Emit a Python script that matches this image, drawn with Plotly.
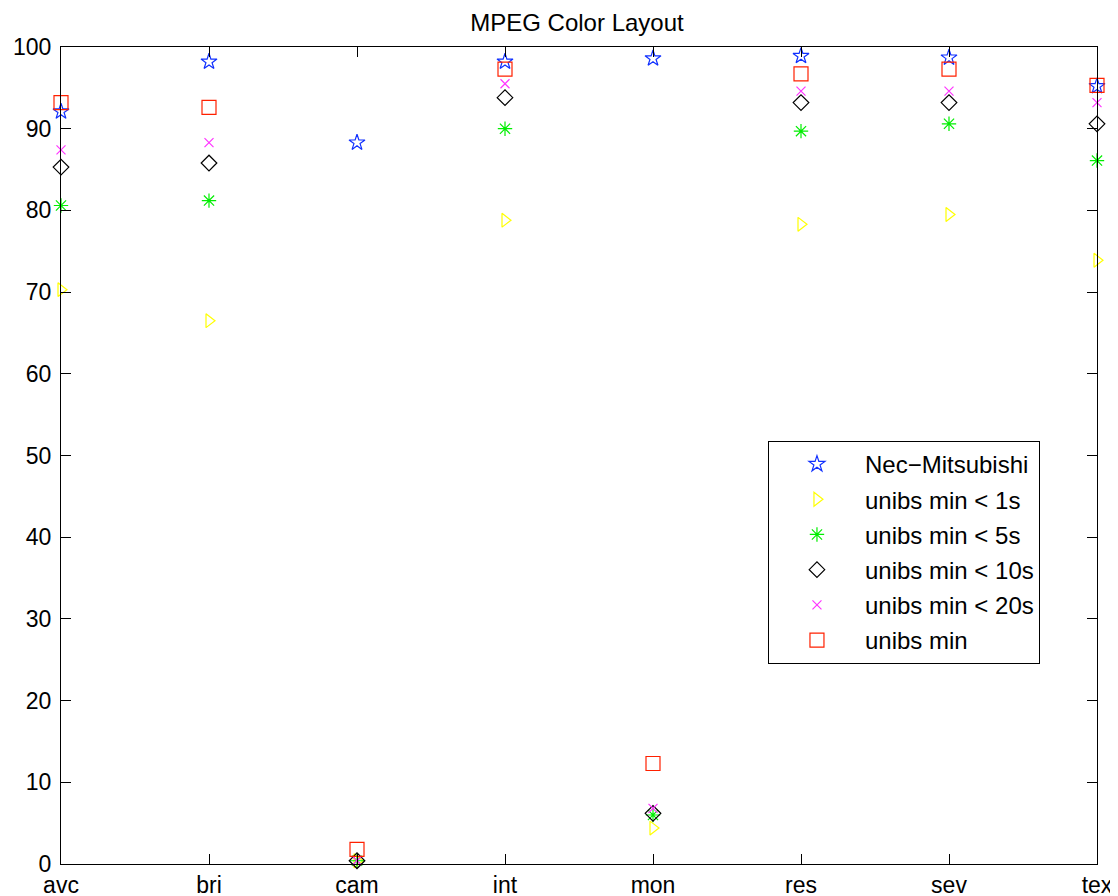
import plotly.graph_objects as go

categories = ["avc", "bri", "cam", "int", "mon", "res", "sev", "tex"]
y_ticks = [0, 10, 20, 30, 40, 50, 60, 70, 80, 90, 100]

nec_mitsubishi = [92.1, 98.2, 88.3, 98.2, 98.6, 98.9, 98.7, 95.2]
unibs_lt_1s = [70.3, 66.5, 0.4, 78.8, 4.4, 78.3, 79.5, 73.9]
unibs_lt_5s = [80.6, 81.2, 0.4, 90.0, 6.0, 89.7, 90.6, 86.1]
unibs_lt_10s = [85.3, 85.8, 0.4, 93.8, 6.2, 93.2, 93.2, 90.6]
unibs_lt_20s = [87.4, 88.3, 0.4, 95.5, 6.8, 94.6, 94.6, 93.2]
unibs_min = [93.2, 92.6, 1.8, 97.3, 12.3, 96.7, 97.3, 95.3]

series = [
    ("Nec\u2212Mitsubishi", nec_mitsubishi, "star-open", "#1030ff", 12),
    ("unibs min < 1s", unibs_lt_1s, "triangle-right-open", "#ffff00", 12),
    ("unibs min < 5s", unibs_lt_5s, "asterisk-open", "#00ee00", 12),
    ("unibs min < 10s", unibs_lt_10s, "diamond-open", "#000000", 12),
    ("unibs min < 20s", unibs_lt_20s, "x-thin-open", "#ff33ff", 9),
    ("unibs min", unibs_min, "square-open", "#ff2000", 14),
]

fig = go.Figure()
for i, (name, vals, sym, col, sz) in enumerate(series):
    fig.add_trace(go.Scatter(
        x=list(range(len(categories))), y=vals, mode="markers", name=name,
        legendgroup=f"g{i}",
        marker=dict(symbol=sym, color=col, size=sz, line=dict(color=col, width=1.2)),
        cliponaxis=False,
    ))

font = "Liberation Sans, Arial, Helvetica, sans-serif"
fig.update_layout(
    width=1110, height=888,
    margin=dict(l=53, r=21, t=39, b=32, autoexpand=False),
    paper_bgcolor="white", plot_bgcolor="white",
    font=dict(family=font, size=23, color="black"),
    title=dict(text="MPEG Color Layout", x=0.5126, xanchor="center", y=0.983, yanchor="middle",
               font=dict(family=font, size=24, color="black")),
    showlegend=True,
    legend=dict(x=0.6824, y=0.5178, xanchor="left", yanchor="top",
                bordercolor="black", borderwidth=1, bgcolor="white",
                tracegroupgap=1, itemwidth=86, entrywidth=181, entrywidthmode="pixels",
                font=dict(family=font, size=24, color="black")),
    xaxis=dict(
        range=[0, len(categories) - 1], tickmode="array",
        tickvals=list(range(len(categories))), ticktext=categories,
        showgrid=False, zeroline=False, showline=True, linecolor="black", linewidth=1,
        mirror="ticks", ticks="inside", ticklen=10, tickcolor="black", automargin=False,
    ),
    yaxis=dict(
        range=[0, 100], tickmode="array", tickvals=y_ticks,
        showgrid=False, zeroline=False, showline=True, linecolor="black", linewidth=1,
        mirror="ticks", ticks="inside", ticklen=10, tickcolor="black", automargin=False,
        ticklabelstandoff=4,
    ),
)

fig.write_html("out.html")
